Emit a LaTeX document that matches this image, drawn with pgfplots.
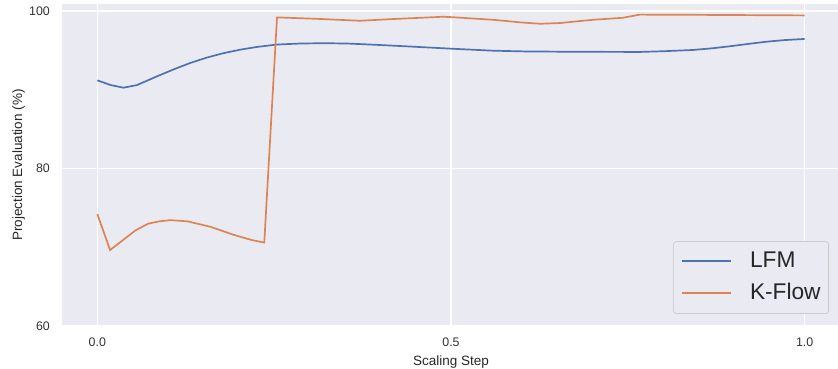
\documentclass[border=0pt]{standalone}
\usepackage{fontspec}
\setmainfont{Liberation Sans}
\usepackage{pgfplots}
\pgfplotsset{compat=1.18}
\definecolor{bg}{HTML}{EAEAF2}
\definecolor{sblue}{HTML}{4C72B0}
\definecolor{sorange}{HTML}{DD8452}
\definecolor{lgedge}{HTML}{CCCCCC}
\begin{document}
\begin{tikzpicture}
\useasboundingbox (0,0) rectangle (838bp,369bp);
\begin{axis}[
  at={(62bp,43bp)}, anchor=south west,
  scale only axis, width=778bp, height=322bp,
  xmin=-0.05, xmax=1.05, ymin=60, ymax=100.9,
  axis background/.style={fill=bg},
  axis line style={draw=none},
  major tick length=0pt,
  grid=major, major grid style={white, line width=1.2bp},
  xtick={0,0.5,1}, xticklabels={0.0,0.5,1.0},
  ytick={60,80,100}, yticklabels={60,80,100},
  tick label style={font=\fontsize{12.4bp}{14bp}\selectfont, text=black!80},
  xticklabel style={anchor=north, inner sep=0pt, yshift=-11.5bp},
  yticklabel style={anchor=east, inner sep=0pt, xshift=-12bp},
  xlabel={Scaling Step}, ylabel={Projection Evaluation (\%)},
  every axis x label/.style={at={(axis description cs:0.5,-0.1103)}, anchor=center,
    font=\fontsize{13.5bp}{16bp}\selectfont, text=black!85},
  every axis y label/.style={at={(axis description cs:-0.0559,0.5)}, anchor=center, rotate=90,
    font=\fontsize{13.5bp}{16bp}\selectfont, text=black!85},
  legend style={at={(rel axis cs:0.9859,0.0373)}, anchor=south east,
    draw=lgedge, fill=bg, rounded corners=3bp, line width=0.8bp,
    inner xsep=8bp, inner ysep=9.7bp, row sep=12bp, column sep=18bp,
    font=\fontsize{22.7bp}{26bp}\selectfont, text=black!85,
    nodes={inner sep=0pt, text height=16.3bp, text depth=4bp}},
  legend cell align=left,
  every legend image post/.append style={line width=1.7bp},
  legend image code/.code={\draw[#1, sharp corners] (0bp,0.4bp) -- (49bp,0.4bp);},
]
\addplot[sblue, line width=1.7bp] coordinates {
(0,91.2) (0.019,90.6) (0.037,90.27) (0.056,90.6) (0.084,91.7) (0.108,92.6)
(0.131,93.4) (0.155,94.1) (0.178,94.65) (0.202,95.1) (0.226,95.45) (0.254,95.75)
(0.287,95.88) (0.320,95.92) (0.353,95.88) (0.386,95.75) (0.442,95.5) (0.499,95.23)
(0.559,94.97) (0.607,94.87) (0.682,94.83) (0.767,94.81) (0.80,94.9) (0.842,95.06)
(0.870,95.28) (0.898,95.57) (0.922,95.85) (0.946,96.11) (0.972,96.32) (1.0,96.46)
};
\addlegendentry{LFM}
\addplot[sorange, line width=1.7bp] coordinates {
(0,74.2) (0.018,69.65) (0.054,72.15) (0.072,73.0) (0.088,73.3) (0.103,73.45)
(0.127,73.3) (0.160,72.6) (0.192,71.6) (0.219,70.9) (0.236,70.6) (0.254,99.2)
(0.315,99.0) (0.371,98.77) (0.418,98.99) (0.489,99.28) (0.499,99.24) (0.559,98.9)
(0.600,98.55) (0.626,98.39) (0.654,98.48) (0.701,98.9) (0.743,99.15) (0.767,99.55)
(0.852,99.52) (1.0,99.45)
};
\addlegendentry{K-Flow}
\end{axis}
\end{tikzpicture}
\end{document}
